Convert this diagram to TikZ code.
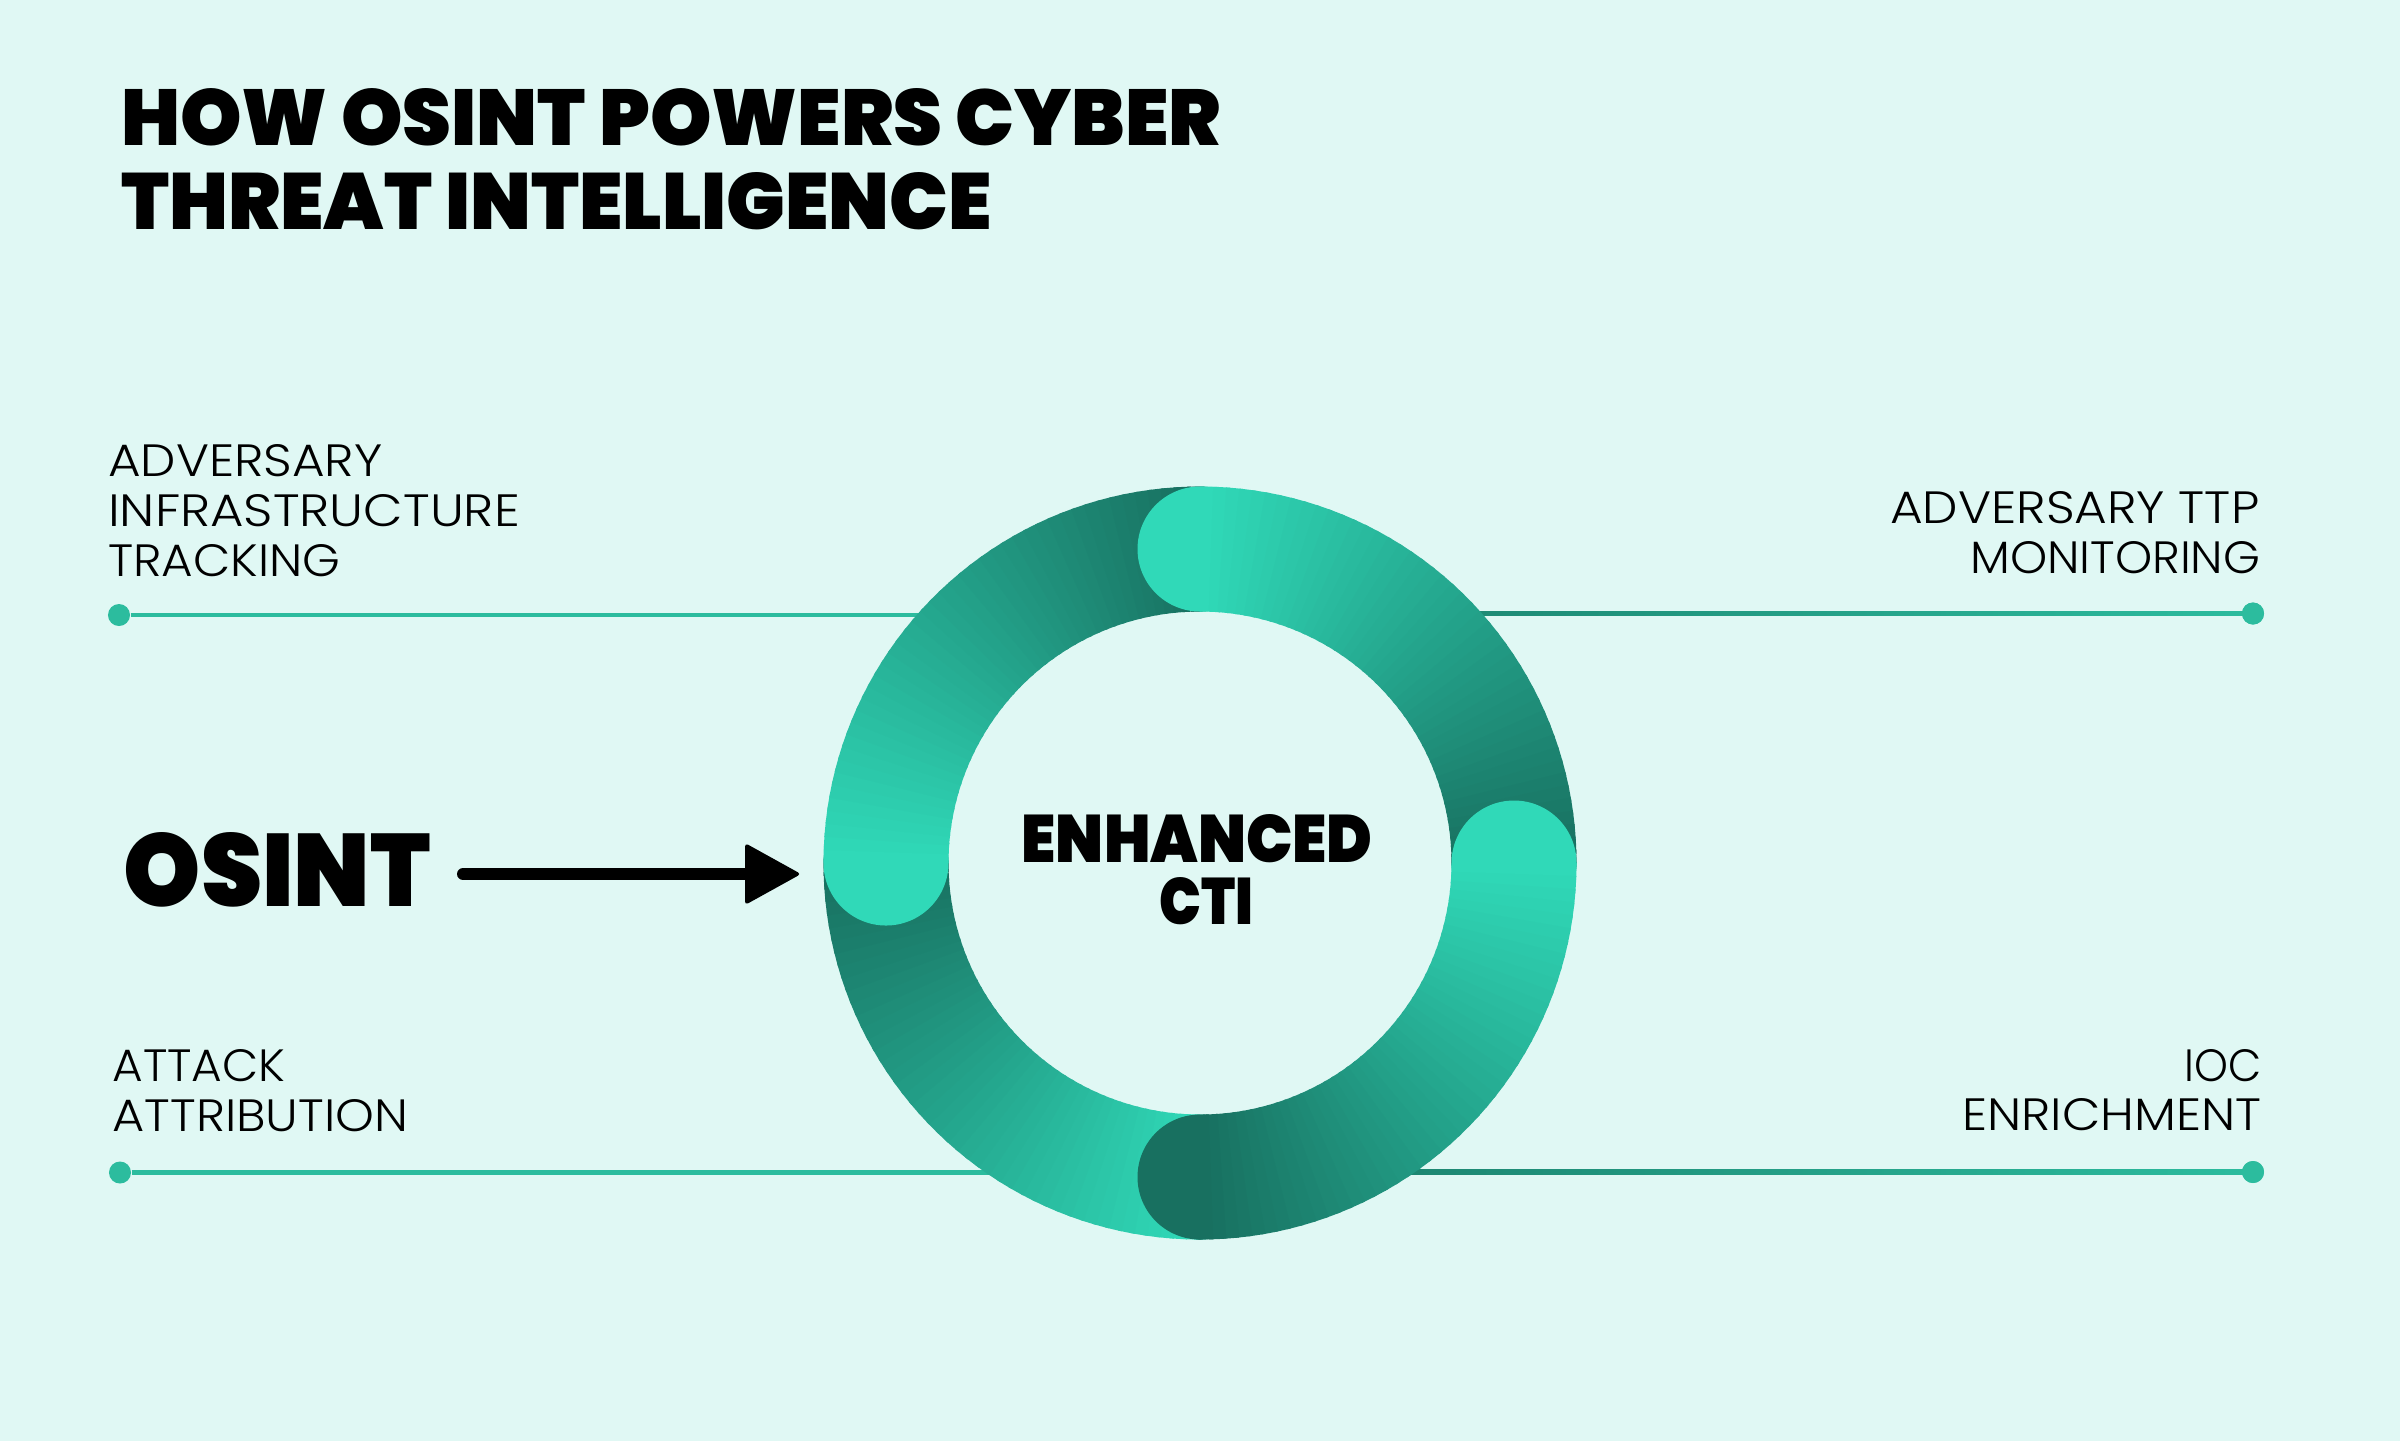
\documentclass[tikz,border=0pt]{standalone}
\usepackage{fontspec}
\usepackage{graphicx}
\usetikzlibrary{calc}
\IfFontExistsTF{Poppins Black}{\newfontfamily\heavyfont{Poppins Black}}{%
  \IfFontExistsTF{Poppins ExtraBold}{\newfontfamily\heavyfont{Poppins ExtraBold}}{%
    \newfontfamily\heavyfont{Poppins}[UprightFont={* Bold}]}}
\IfFontExistsTF{Poppins Light}{\newfontfamily\labfont{Poppins Light}}{\newfontfamily\labfont{Poppins}}
\newlength\pxu
\setlength\pxu{0.01cm}
\newcommand\fitt[3]{\resizebox{#1\pxu}{#2\pxu}{#3}}
\definecolor{bgc}{HTML}{E0F8F4}
\definecolor{ringL}{HTML}{30D9B8}
\definecolor{ringD}{HTML}{187060}
\definecolor{lineL}{HTML}{2CBC9E}
\definecolor{lineD}{HTML}{1D8671}
\tikzset{
  dotnode/.style={circle, fill=lineL, inner sep=0pt, minimum size=0.22cm},
  plainline/.style={draw=lineL, line width=0.045cm},
  lbl/.style={inner sep=0pt, text=black},
}
\begin{document}
\begin{tikzpicture}[x=0.01cm,y=-0.01cm]
\fill[bgc] (0,0) rectangle (2400,1441);
\useasboundingbox (0,0) rectangle (2400,1441);

% connector lines with end dots
\coordinate (r1) at (1000,615);
\coordinate (r2) at (1400,613.5);
\coordinate (r3) at (1000,1172.5);
\coordinate (r4) at (1400,1172);
\node[dotnode] (d1) at (119,615) {};
\node[dotnode] (d2) at (2253,613.5) {};
\node[dotnode] (d3) at (120,1172.5) {};
\node[dotnode] (d4) at (2253,1172) {};
\draw[plainline] (d1) -- (r1);
\draw[plainline] (d3) -- (r3);
\shade[left color=lineD, right color=lineL] ($(r2)+(0,-2.25)$) rectangle ($(d2)+(0,2.25)$);
\shade[left color=lineD, right color=lineL] ($(r4)+(0,-2.25)$) rectangle ($(d4)+(0,2.25)$);
\node[dotnode] at (d2) {};
\node[dotnode] at (d4) {};

% ring: four quarter arcs with round ends, light to dark clockwise
\begin{scope}[shift={(1200,863)}]
\foreach \s/\e in {90/180,180/270,270/360,0/90} {
  \fill[ringL] (\s:314) circle[radius=62.5];
  \fill[ringD] (\e:314) circle[radius=62.5];
  \foreach \i in {0,...,44} {
    \pgfmathsetmacro\a{\s+2*\i}
    \pgfmathsetmacro\b{\a+2.6}
    \pgfmathsetmacro\q{100-100*\i/44}
    \fill[ringL!\q!ringD] (\a:251.5) arc[start angle=\a, end angle=\b, radius=251.5]
      -- (\b:376.5) arc[start angle=\b, end angle=\a, radius=376.5] -- cycle;
  }
}
\end{scope}

% title
\node[lbl, anchor=base west] (t1) at (120.5,145) {\fitt{1100}{57}{\heavyfont HOW OSINT POWERS CYBER}};
\node[lbl, anchor=base west] (t2) at (120.5,229) {\fitt{870.5}{57}{\heavyfont THREAT INTELLIGENCE}};

% OSINT and arrow
\node[lbl, anchor=base west] (osint) at (123,906) {\fitt{307}{74}{\heavyfont OSINT}};
\coordinate (arrS) at (463,874);
\coordinate (arrH) at (752,874);
\coordinate (arrE) at (801,874);
\draw[line width=0.12cm, line cap=round] (arrS) -- (arrH);
\fill[rounded corners=0.035cm] ($(arrE)+(-56,-31)$) -- (arrE) -- ($(arrE)+(-56,31)$) -- cycle;

% centre text
\node[lbl, anchor=base west] (enh) at (1021,862) {\fitt{351}{48}{\heavyfont ENHANCED}};
\node[lbl, anchor=base west] (cti) at (1159,924) {\fitt{94}{47}{\heavyfont CTI}};

% labels
\node[lbl, anchor=base west] (a1) at (107.5,476.7) {\fitt{274}{32}{\labfont ADVERSARY}};
\node[lbl, anchor=base west] (a2) at (107.5,526.7) {\fitt{411.6}{32}{\labfont INFRASTRUCTURE}};
\node[lbl, anchor=base west] (a3) at (107.5,576.7) {\fitt{232}{32}{\labfont TRACKING}};
\node[lbl, anchor=base east] (b1) at (2260,523) {\fitt{369}{32}{\labfont ADVERSARY TTP}};
\node[lbl, anchor=base east] (b2) at (2261,573) {\fitt{290}{32}{\labfont MONITORING}};
\node[lbl, anchor=base west] (c1) at (111.8,1081.7) {\fitt{173}{32}{\labfont ATTACK}};
\node[lbl, anchor=base west] (c2) at (111.8,1131) {\fitt{295.7}{32}{\labfont ATTRIBUTION}};
\node[lbl, anchor=base east] (e1) at (2262,1081.7) {\fitt{77}{32}{\labfont IOC}};
\node[lbl, anchor=base east] (e2) at (2262,1130) {\fitt{299}{32}{\labfont ENRICHMENT}};
\end{tikzpicture}
\end{document}
